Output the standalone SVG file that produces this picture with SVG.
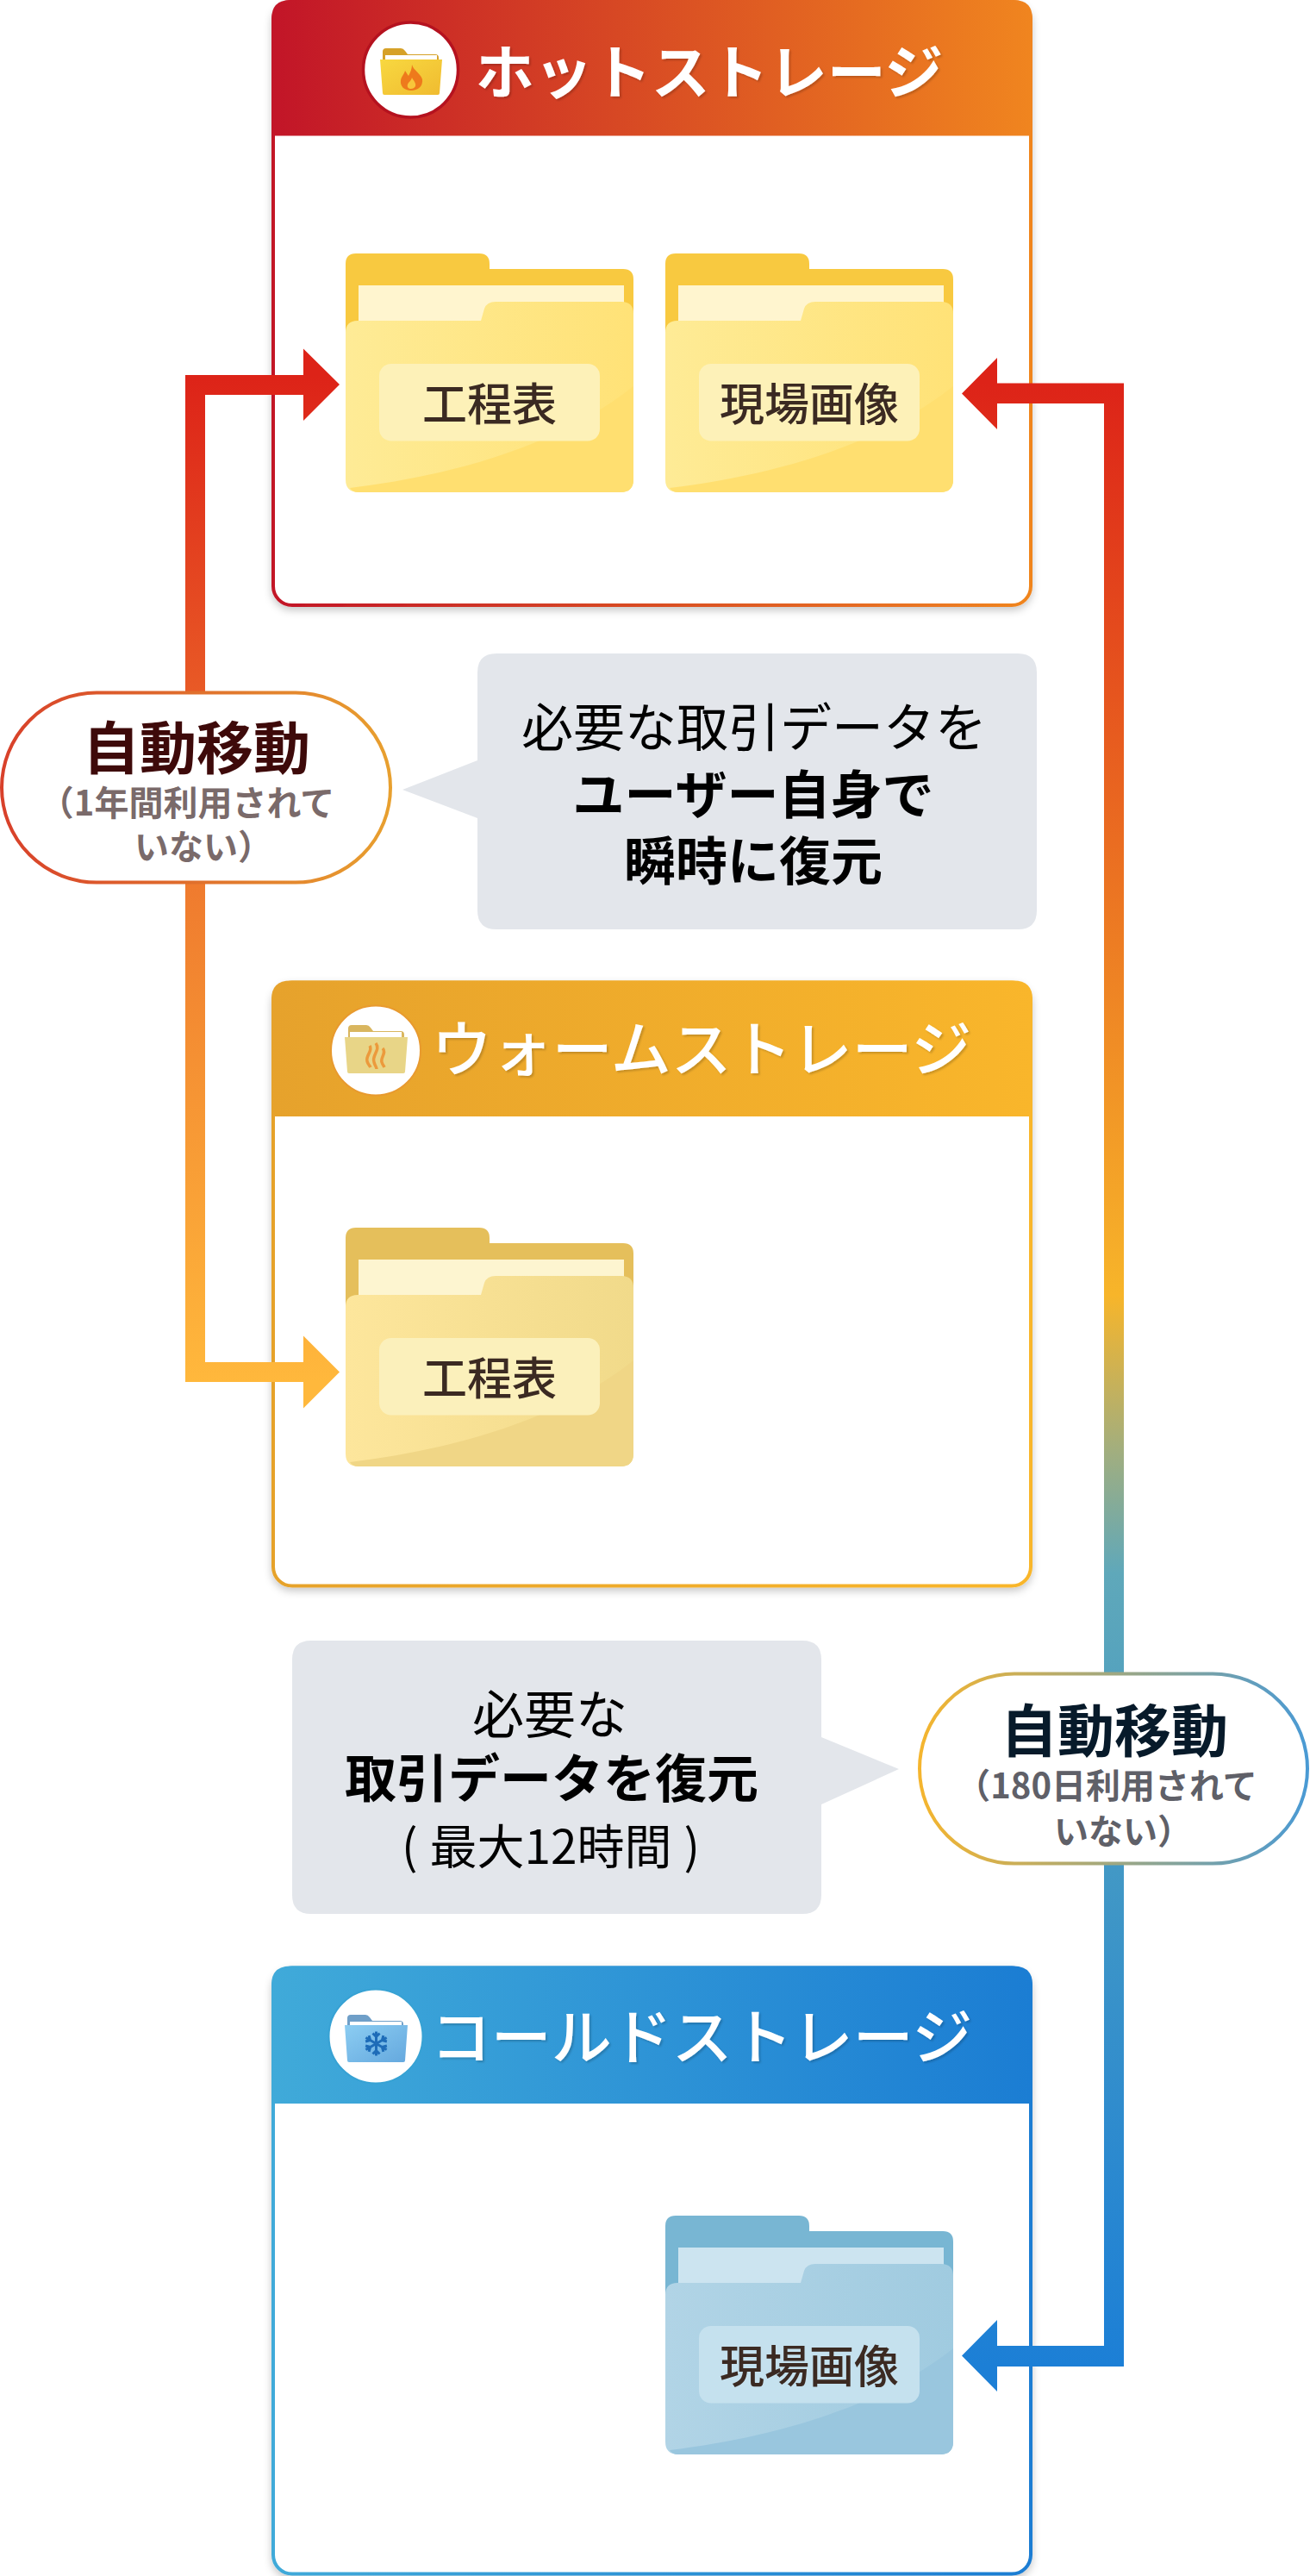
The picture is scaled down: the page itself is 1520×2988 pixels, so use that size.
<svg xmlns="http://www.w3.org/2000/svg" width="1520" height="2988" viewBox="0 0 1520 2988">
<style>
text{font-family:"Noto Sans CJK JP","Noto Sans",sans-serif;text-anchor:middle}
.title{font-size:68px;font-weight:700;fill:#fff}
.title.w{font-size:70px;font-weight:500}
.title.c{font-size:70px;font-weight:500}
.lab{font-size:52px;font-weight:500;fill:#3b2a22}
.note{font-size:60px;font-weight:400;fill:#000}
.noteb{font-size:60px;font-weight:700;fill:#000}
.pm{font-size:66px;font-weight:700}
.ps{font-size:40px;font-weight:700}
.bub{fill:#e3e6eb}
</style>
<defs>
<filter id="sh" x="-5%" y="-5%" width="110%" height="110%"><feDropShadow dx="0" dy="4" stdDeviation="5" flood-color="#000" flood-opacity=".22"/></filter>
<filter id="ts" x="-5%" y="-10%" width="110%" height="120%"><feDropShadow dx="2" dy="2" stdDeviation="1" flood-color="#000" flood-opacity=".18"/></filter>
<linearGradient id="gh"><stop offset="0" stop-color="#c21528"/><stop offset="1" stop-color="#f0851f"/></linearGradient>
<linearGradient id="gw"><stop offset="0" stop-color="#e6a22c"/><stop offset="1" stop-color="#f9b62b"/></linearGradient>
<linearGradient id="gc"><stop offset="0" stop-color="#40aad9"/><stop offset="1" stop-color="#1b7dd3"/></linearGradient>
<linearGradient id="fh"><stop offset="0" stop-color="#feeb96"/><stop offset="1" stop-color="#ffe277"/></linearGradient>
<linearGradient id="fw"><stop offset="0" stop-color="#fde69c"/><stop offset="1" stop-color="#f1da8a"/></linearGradient>
<linearGradient id="fc"><stop offset="0" stop-color="#b1d4e6"/><stop offset="1" stop-color="#a0cbe0"/></linearGradient>
<linearGradient id="ih" x1="0" y1="0" x2="1" y2="1"><stop offset="0" stop-color="#f8d840"/><stop offset="1" stop-color="#f0bb30"/></linearGradient>
<linearGradient id="ic" x1="0" y1="0" x2="1" y2="1"><stop offset="0" stop-color="#8ccdf2"/><stop offset="1" stop-color="#64a8de"/></linearGradient>
<linearGradient id="cl" gradientUnits="userSpaceOnUse" x1="0" y1="435" x2="0" y2="1603"><stop offset="0" stop-color="#dd2318"/><stop offset=".5" stop-color="#ef7a2e"/><stop offset="1" stop-color="#ffb83c"/></linearGradient>
<linearGradient id="cr" gradientUnits="userSpaceOnUse" x1="0" y1="444" x2="0" y2="2745"><stop offset="0" stop-color="#dd2318"/><stop offset=".46" stop-color="#f7b52a"/><stop offset=".54" stop-color="#a0ae80"/><stop offset=".6" stop-color="#5fa8ba"/><stop offset=".76" stop-color="#4097c6"/><stop offset="1" stop-color="#1c7fd6"/></linearGradient>
<linearGradient id="p1"><stop offset="0" stop-color="#d8402a"/><stop offset="1" stop-color="#e8a02f"/></linearGradient>
<linearGradient id="p2"><stop offset="0" stop-color="#f5b52e"/><stop offset="1" stop-color="#4a9ad4"/></linearGradient>
<path id="fback" d="M0,12Q0,0 12,0H155Q167,0 167,12V18H322Q334,18 334,30V110H0Z"/>
<path id="ffront" d="M0,92Q0,78 14,78H157L161,64Q164,56 174,56H320Q334,56 334,70V262Q334,277 319,277H15Q0,277 0,262Z"/>
<path id="fsheen" d="M5,272C120,258 245,225 334,154V262Q334,277 319,277H15Q8,277 5,272Z"/>
<path id="bfold" d="M3,4Q3,0 7,0H24Q27,0 29,3L32,7H64Q68,7 68,11V24H3Z"/>
<g id="arm"><path d="M0,0V-14M0,-8L-4,-12M0,-8L4,-12" fill="none" stroke="#1e6cb8" stroke-width="3"/></g>
</defs>

<g id="hot-storage">
<rect x="317" y="2" width="879" height="700" rx="22" fill="#fff" stroke="url(#gh)" stroke-width="4" filter="url(#sh)"/>
<path d="M315,157.500V22Q315,0 337,0H1176Q1198,0 1198,22V157.500Z" fill="url(#gh)"/>
<circle cx="476.500" cy="81" r="55" fill="#fff" stroke="#b5121f" stroke-width="3.500"/>
<use href="#bfold" x="441" y="56" fill="#d6a128"/><rect x="447" y="64" width="60" height="8" fill="#fff"/>
<path d="M441,69H513L510,108Q510,110 508,110H446Q444,110 444,108Z" fill="url(#ih)"/>
<path d="M478,75C480,82 488,85 490,92C491,100 485,105 477,105C469,105 464,100 465,93C466,88 469,86 470,82C472,85 473,87 474,88C476,84 478,80 478,75Z" fill="#ee7a1c"/>
<path d="M478,90C480,94 483,96 482,100C481,102 479,103 477,103C474,103 472,101 473,98C474,95 477,94 478,90Z" fill="#f8c63a"/>
<text class="title" x="823" y="109" filter="url(#ts)">ホットストレージ</text>
</g>
<g id="hot-folder-koteihyo" transform="translate(401 294)">
<use href="#fback" fill="#f8c940"/><rect x="15" y="37" width="308" height="50" fill="#fff5cf"/>
<use href="#ffront" fill="url(#fh)"/><use href="#fsheen" fill="#ffdf70"/>
<rect x="39" y="128" width="256" height="89.500" rx="14" fill="#fdf1b8"/>
<text class="lab" x="167" y="194">工程表</text>
</g>
<g id="hot-folder-genba" transform="translate(772 294)">
<use href="#fback" fill="#f8c940"/><rect x="15" y="37" width="308" height="50" fill="#fff5cf"/>
<use href="#ffront" fill="url(#fh)"/><use href="#fsheen" fill="#ffdf70"/>
<rect x="39" y="128" width="256" height="89.500" rx="14" fill="#fdf1b8"/>
<text class="lab" x="167" y="194">現場画像</text>
</g>

<g id="warm-storage">
<rect x="317" y="1139.500" width="879" height="700" rx="22" fill="#fff" stroke="url(#gw)" stroke-width="4" filter="url(#sh)"/>
<path d="M315,1295V1159Q315,1137.500 337,1137.500H1176Q1198,1137.500 1198,1159V1295Z" fill="url(#gw)"/>
<circle cx="436" cy="1218.500" r="52" fill="#fff" stroke="#e89a2f" stroke-width="2"/>
<use href="#bfold" x="401" y="1189" fill="#d9b65f"/><rect x="406" y="1197" width="60" height="8" fill="#fff"/>
<path d="M400,1203H473L470,1243Q470,1245 468,1245H405Q403,1245 403,1243Z" fill="#e8d587"/>
<g fill="none" stroke="#ec9a3c" stroke-width="3.500"><path d="M429,1213C433,1219 424,1224 426,1231C427,1235 429,1236 430,1238"/><path d="M436,1210C442,1218 431,1224 434,1232C435,1236 437,1238 437,1240"/><path d="M444,1216C449,1221 441,1227 443,1232C444,1235 445,1236 446,1238"/></g>
<text class="title w" x="814" y="1243" filter="url(#ts)">ウォームストレージ</text>
</g>
<g id="warm-folder-koteihyo" transform="translate(401 1424)">
<use href="#fback" fill="#e5bf5b"/><rect x="15" y="37" width="308" height="50" fill="#fdf5d0"/>
<use href="#ffront" fill="url(#fw)"/><use href="#fsheen" fill="#f0d686"/>
<rect x="39" y="128" width="256" height="89.500" rx="14" fill="#fbf0bb"/>
<text class="lab" x="167" y="194">工程表</text>
</g>

<g id="cold-storage">
<rect x="317" y="2282.500" width="879" height="703" rx="22" fill="#fff" stroke="url(#gc)" stroke-width="4" filter="url(#sh)"/>
<path d="M315,2440V2302Q315,2280.500 337,2280.500H1176Q1198,2280.500 1198,2302V2440Z" fill="url(#gc)"/>
<circle cx="436" cy="2362" r="54.500" fill="#fff" stroke="#37a2d4" stroke-width="2"/>
<use href="#bfold" x="400" y="2337" fill="#6f9fc8"/><rect x="406" y="2345" width="60" height="8" fill="#fff"/>
<path d="M400,2349H473L470,2390Q470,2392 468,2392H405Q403,2392 403,2390Z" fill="url(#ic)"/>
<g transform="translate(436.500 2370.500)"><use href="#arm"/><use href="#arm" transform="rotate(60)"/><use href="#arm" transform="rotate(120)"/><use href="#arm" transform="rotate(180)"/><use href="#arm" transform="rotate(240)"/><use href="#arm" transform="rotate(300)"/></g>
<text class="title c" x="814" y="2389" filter="url(#ts)">コールドストレージ</text>
</g>
<g id="cold-folder-genba" transform="translate(772 2570)">
<use href="#fback" fill="#78b6d3"/><rect x="15" y="37" width="308" height="50" fill="#cce4f0"/>
<use href="#ffront" fill="url(#fc)"/><use href="#fsheen" fill="#99c6de"/>
<rect x="39" y="128" width="256" height="89.500" rx="14" fill="#c5e1ee"/>
<text class="lab" x="167" y="194">現場画像</text>
</g>

<g id="connectors">
<path id="conn-left" d="M394,446L352,404.500V435H215V1603H352V1633.500L394,1591.500L352,1549.500V1580H238V458H352V488Z" fill="url(#cl)"/>
<path id="conn-right" d="M1116,456.500L1157,415V444.500H1304V2745H1157V2774L1116,2732.500L1157,2691V2721H1281V468H1157V498Z" fill="url(#cr)"/>
</g>

<g id="badge-1year">
<rect x="2" y="803.500" width="451" height="220" rx="110" fill="#fff" stroke="url(#p1)" stroke-width="4"/>
<text class="pm" x="228" y="892" fill="#3e0a0a">自動移動</text>
<text class="ps" x="217" y="946" fill="#7a6a6a">（1年間利用されて</text>
<text class="ps" x="236" y="997" fill="#7a6a6a">いない）</text>
</g>
<g id="badge-180days">
<rect x="1067" y="1941.500" width="450" height="220" rx="110" fill="#fff" stroke="url(#p2)" stroke-width="4"/>
<text class="pm" x="1293" y="2032" fill="#071a2a">自動移動</text>
<text class="ps" x="1284" y="2086" fill="#5f6068">（180日利用されて</text>
<text class="ps" x="1303" y="2139" fill="#5f6068">いない）</text>
</g>

<g id="note-instant">
<path class="bub" d="M576,758H1181Q1203,758 1203,780V1056Q1203,1078 1181,1078H576Q554,1078 554,1056V949L467,916L554,882V780Q554,758 576,758Z"/>
<text class="note" x="875" y="866">必要な取引データを</text>
<text class="noteb" x="874" y="944">ユーザー自身で</text>
<text class="noteb" x="874" y="1021">瞬時に復元</text>
</g>
<g id="note-restore">
<path class="bub" d="M361,1903H931Q953,1903 953,1925V2015L1043,2052L953,2093V2198Q953,2220 931,2220H361Q339,2220 339,2198V1925Q339,1903 361,1903Z"/>
<text class="note" x="638" y="2011">必要な</text>
<text class="noteb" x="640" y="2085">取引データを復元</text>
<text class="note" x="639" y="2162" style="font-size:55px">(<tspan dx="14">最大12時間</tspan><tspan dx="14">)</tspan></text>
</g>
</svg>
